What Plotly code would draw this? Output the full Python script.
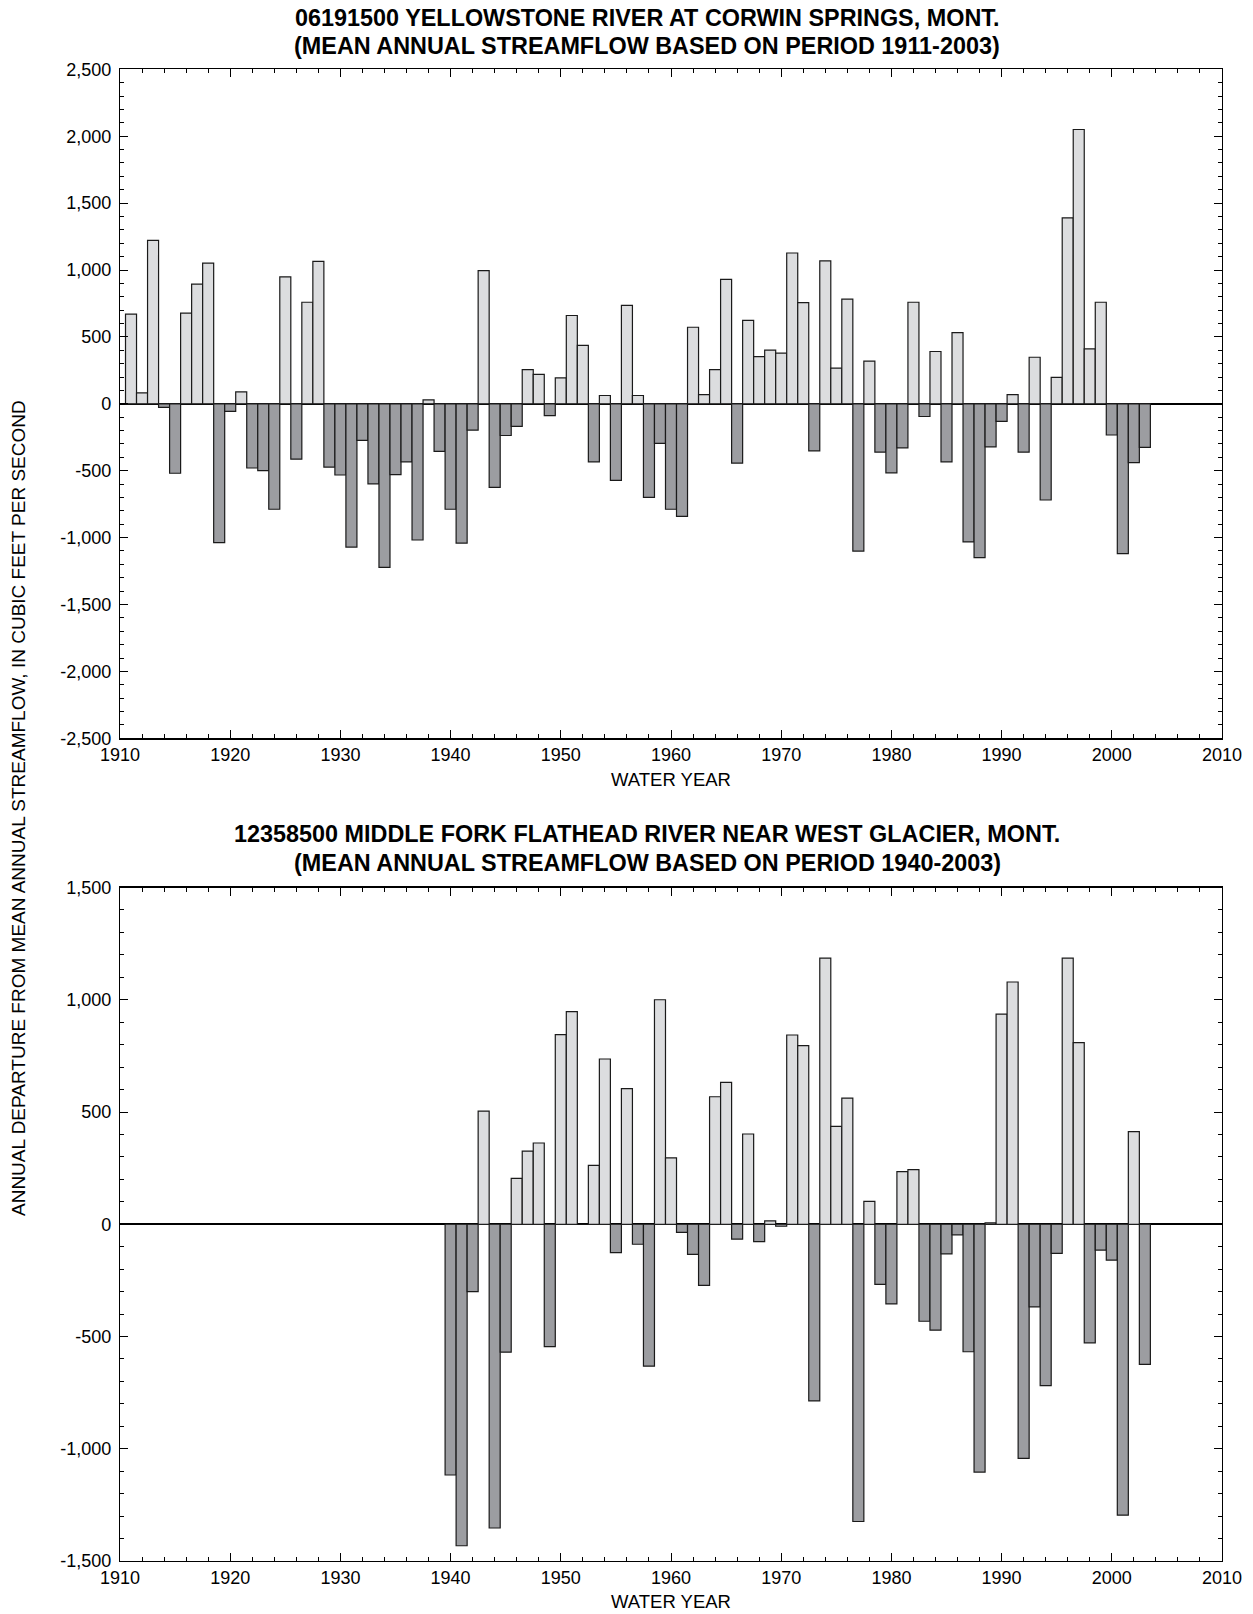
import plotly.graph_objects as go

# ---------------- data ----------------
years_top = list(range(1911, 2004))
values_top = [
    670, 82, 1222, -26, -519, 677, 894, 1051, -1038, -56,          # 1911-1920
    89, -480, -499, -788, 949, -414, 759, 1064, -473, -532,        # 1921-1930
    -1071, -273, -598, -1222, -529, -434, -1018, 30, -355, -788,   # 1931-1940
    -1041, -197, 995, -624, -237, -168, 256, 220, -89, 194,        # 1941-1950
    660, 437, -434, 62, -572, 736, 62, -700, -296, -788,           # 1951-1960
    -841, 572, 69, 256, 930, -443, 624, 352, 401, 378,             # 1961-1970
    1127, 756, -352, 1068, 266, 782, -1101, 319, -361, -516,       # 1971-1980
    -329, 759, -95, 391, -434, 532, -1032, -1150, -322, -131,      # 1981-1990
    69, -361, 348, -719, 197, 1390, 2050, 411, 759, -233,          # 1991-2000
    -1120, -440, -325,                                             # 2001-2003
]

years_bot = list(range(1940, 2004))
values_bot = [
    -1117, -1432, -300, 504, -1353, -570, 204, 326, 362, -545,     # 1940-1949
    845, 947, 0, 262, 736, -126, 604, -89, -632, 1000,             # 1950-1959
    296, -36, -134, -272, 568, 632, -66, 402, -77, 15,             # 1960-1969
    -9, 843, 796, -787, 1185, 436, 562, -1324, 102, -268,          # 1970-1979
    -355, 234, 243, -432, -472, -132, -47, -568, -1104, 6,         # 1980-1989
    936, 1079, -1043, -368, -719, -130, 1185, 809, -528, -115,     # 1990-1999
    -160, -1296, 413, -624,                                        # 2000-2003
]

x_tickvals = [1910, 1920, 1930, 1940, 1950, 1960, 1970, 1980, 1990, 2000, 2010]
x_ticktext = ["1910", "1920", "1930", "1940", "1950", "1960", "1970", "1980", "1990", "2000", "2010"]
y_top_tickvals = [2500, 2000, 1500, 1000, 500, 0, -500, -1000, -1500, -2000, -2500]
y_top_ticktext = ["2,500", "2,000", "1,500", "1,000", "500", "0", "-500", "-1,000", "-1,500", "-2,000", "-2,500"]
y_bot_tickvals = [1500, 1000, 500, 0, -500, -1000, -1500]
y_bot_ticktext = ["1,500", "1,000", "500", "0", "-500", "-1,000", "-1,500"]

title_top = ["06191500 YELLOWSTONE RIVER AT CORWIN SPRINGS, MONT.",
             "(MEAN ANNUAL STREAMFLOW BASED ON PERIOD 1911-2003)"]
title_bot = ["12358500 MIDDLE FORK FLATHEAD RIVER NEAR WEST GLACIER, MONT.",
             "(MEAN ANNUAL STREAMFLOW BASED ON PERIOD 1940-2003)"]
y_title = "ANNUAL DEPARTURE FROM MEAN ANNUAL STREAMFLOW, IN CUBIC FEET PER SECOND"
x_title = "WATER YEAR"

# ---------------- styling ----------------
W, H = 1253, 1614
LIGHT = "#dcdddf"
DARK = "#9c9da1"
EDGE = "#1a1a1a"
FONT = "Liberation Sans, Arial, sans-serif"
TFONT = "Liberation Sans, Arial, sans-serif"
TICKSIZE = 18

def colors(vals):
    return [LIGHT if v > 0 else DARK for v in vals]

def px(x):
    return x / W

def py(y):
    return 1 - y / H

fig = go.Figure()
fig.add_trace(go.Bar(x=years_top, y=values_top, width=1.0,
                     marker=dict(color=colors(values_top), line=dict(color=EDGE, width=1.2)),
                     xaxis="x", yaxis="y", showlegend=False, hoverinfo="skip"))
fig.add_trace(go.Bar(x=years_bot, y=values_bot, width=1.0,
                     marker=dict(color=colors(values_bot), line=dict(color=EDGE, width=1.2)),
                     xaxis="x2", yaxis="y2", showlegend=False, hoverinfo="skip"))

xd = [px(120), px(1222)]
top_dom = [py(738.3), py(69.3)]
bot_dom = [py(1561), py(887.5)]

def xaxis(anchor):
    return dict(domain=xd, anchor=anchor, range=[1910, 2010], automargin=False,
                tickvals=x_tickvals, ticktext=x_ticktext,
                ticks="inside", ticklen=8, tickwidth=1, tickcolor="black",
                minor=dict(dtick=2, tick0=1910, ticks="inside", ticklen=4, tickcolor="black", tickwidth=1),
                showline=True, linecolor="black", linewidth=1.2, mirror="ticks",
                showgrid=False, zeroline=False,
                ticklabelstandoff=0,
                tickfont=dict(family=FONT, size=TICKSIZE, color="black"))

def yaxis(anchor, dom, rng, tv, tt):
    return dict(domain=dom, anchor=anchor, range=rng, automargin=False,
                tickvals=tv, ticktext=tt,
                ticks="inside", ticklen=8, tickwidth=1, tickcolor="black",
                minor=dict(dtick=100, tick0=0, ticks="inside", ticklen=4, tickcolor="black", tickwidth=1),
                showline=True, linecolor="black", linewidth=1.2, mirror="ticks",
                showgrid=False, zeroline=True, zerolinecolor="black", zerolinewidth=1.6,
                ticklabelstandoff=4,
                tickfont=dict(family=FONT, size=TICKSIZE, color="black"))

fig.update_layout(
    width=W, height=H,
    margin=dict(l=0, r=0, t=0, b=0),
    paper_bgcolor="white", plot_bgcolor="white",
    bargap=0, hovermode=False,
    xaxis=xaxis("y"),
    yaxis=yaxis("x", top_dom, [-2500, 2500], y_top_tickvals, y_top_ticktext),
    xaxis2=xaxis("y2"),
    yaxis2=yaxis("x2", bot_dom, [-1500, 1500], y_bot_tickvals, y_bot_ticktext),
)

ann = []
def txt(text, x, y, size, bold=False, family=FONT, angle=0):
    ann.append(dict(text=("<b>%s</b>" % text) if bold else text, x=px(x), y=py(y),
                    xref="paper", yref="paper", showarrow=False, textangle=angle,
                    xanchor="center", yanchor="middle",
                    font=dict(family=family, size=size, color="black")))

TS = 23.4
txt(title_top[0], 647, 18, TS, bold=True, family=TFONT)
txt(title_top[1], 647, 46, TS, bold=True, family=TFONT)
txt(title_bot[0], 647, 834, TS, bold=True, family=TFONT)
txt(title_bot[1], 647, 863, TS, bold=True, family=TFONT)
txt(x_title, 671, 779, 18.5)
txt(x_title, 671, 1601, 18.5)
txt(y_title, 18, 808, 19, angle=-90)
fig.update_layout(annotations=ann)

fig.write_html("out.html",
               config={"displayModeBar": False, "staticPlot": True},
               post_script="document.body.style.margin='0';document.body.style.overflow='hidden';")
